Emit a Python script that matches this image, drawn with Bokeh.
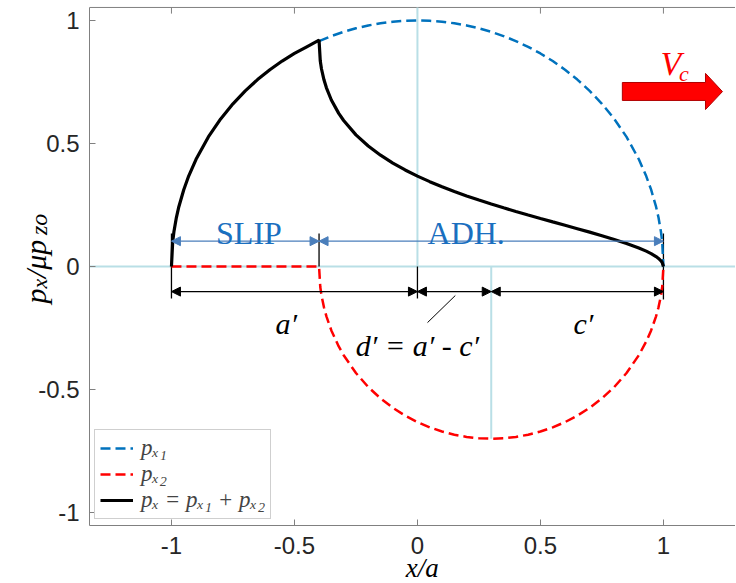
import math
from bokeh.plotting import figure
from bokeh.models import (Label, Arrow, NormalHead, ColumnDataSource, FixedTicker, LinearAxis)
from bokeh.embed import file_html
from bokeh.resources import INLINE

# ---------------- data ----------------
tick_values = [-1, -0.5, 0, 0.5, 1]
tick_labels = ["-1", "-0.5", "0", "0.5", "1"]

# axes box limits
box_x = (-1.333, 1.293)
box_y = (-1.053, 1.053)
top_tick_len = 0.025

# p_x1 (upper circle, adhesion part)
px1_x = [-0.40, -0.35, -0.30, -0.25, -0.20, -0.15, -0.10, -0.05, 0.00, 0.05, 0.10, 0.15,
         0.20, 0.25, 0.30, 0.35, 0.40, 0.45, 0.50, 0.55, 0.60, 0.65, 0.70, 0.75, 0.80,
         0.85, 0.90, 0.93, 0.95, 0.97, 0.98, 0.99, 0.995, 1.00]
px1_y = [0.9165, 0.9367, 0.9539, 0.9682, 0.9798, 0.9887, 0.9950, 0.9987, 1.0000, 0.9987,
         0.9950, 0.9887, 0.9798, 0.9682, 0.9539, 0.9367, 0.9165, 0.8930, 0.8660, 0.8352,
         0.8000, 0.7599, 0.7141, 0.6614, 0.6000, 0.5268, 0.4359, 0.3676, 0.3122, 0.2431,
         0.1990, 0.1411, 0.0999, 0.0000]

# p_x2 (zero in slip zone, lower circle in adhesion zone)
px2_x = [-1.00, -0.40, -0.395, -0.39, -0.38, -0.37, -0.35, -0.32, -0.30, -0.25, -0.20,
         -0.15, -0.10, -0.05, 0.00, 0.05, 0.10, 0.15, 0.20, 0.25, 0.30, 0.35, 0.40, 0.45,
         0.50, 0.55, 0.60, 0.65, 0.70, 0.75, 0.80, 0.85, 0.90, 0.93, 0.95, 0.97, 0.98,
         0.99, 0.995, 1.00]
px2_y = [0.0, 0.0, -0.0835, -0.1179, -0.1661, -0.2027, -0.2598, -0.3250, -0.3606, -0.4330,
         -0.4899, -0.5362, -0.5745, -0.6062, -0.6325, -0.6538, -0.6708, -0.6837, -0.6928,
         -0.6982, -0.7000, -0.6982, -0.6928, -0.6837, -0.6708, -0.6538, -0.6325, -0.6062,
         -0.5745, -0.5362, -0.4899, -0.4330, -0.3606, -0.3051, -0.2598, -0.2027, -0.1661,
         -0.1179, -0.0835, 0.0]

# p_x = p_x1 + p_x2 (total)
px_x = [-1.00, -0.995, -0.99, -0.98, -0.97, -0.95, -0.93, -0.90, -0.85, -0.80, -0.75,
        -0.70, -0.65, -0.60, -0.55, -0.50, -0.45, -0.40,
        -0.395, -0.39, -0.38, -0.37, -0.35, -0.32, -0.30, -0.25, -0.20, -0.15, -0.10,
        -0.05, 0.00, 0.05, 0.10, 0.15, 0.20, 0.25, 0.30, 0.35, 0.40, 0.45, 0.50, 0.55,
        0.60, 0.65, 0.70, 0.75, 0.80, 0.85, 0.90, 0.93, 0.95, 0.97, 0.98, 0.99, 0.995, 1.00]
px_y = [0.0, 0.0999, 0.1411, 0.1990, 0.2431, 0.3122, 0.3676, 0.4359, 0.5268, 0.6000, 0.6614,
        0.7141, 0.7599, 0.8000, 0.8352, 0.8660, 0.8930, 0.9200,
        0.8352, 0.8029, 0.7589, 0.7263, 0.6769, 0.6225, 0.5934, 0.5352, 0.4899, 0.4525,
        0.4205, 0.3925, 0.3675, 0.3449, 0.3242, 0.3050, 0.2870, 0.2700, 0.2539, 0.2385,
        0.2237, 0.2093, 0.1952, 0.1813, 0.1675, 0.1537, 0.1397, 0.1253, 0.1101, 0.0938,
        0.0753, 0.0624, 0.0524, 0.0404, 0.0329, 0.0232, 0.0164, 0.0]

d_end = 0.3

# dimension arrows
blue_arrow_x0 = [-1.0, -0.4]
blue_arrow_x1 = [-0.4, 1.0]
blue_arrow_y = [0.103, 0.103]
black_arrow_x0 = [-1.0, 0.0, 0.3]
black_arrow_x1 = [0.0, 0.3, 1.0]
black_arrow_y = [-0.102, -0.102, -0.102]

# dimension tick lines
dim_x = [-1.0, -0.4, 0.0, 1.0]
dim_y0 = [0.134, 0.134, 0.0, 0.134]
dim_y1 = [-0.13, 0.0, -0.13, -0.134]

# leader line for d'
leader_x = [0.041, 0.154]
leader_y = [-0.228, -0.118]

# velocity arrow shape
vc_x = [0.833, 1.171, 1.171, 1.240, 1.171, 1.171, 0.833]
vc_y = [0.748, 0.748, 0.785, 0.711, 0.638, 0.675, 0.675]

# ---------------- figure ----------------
W, H = 735, 583
p = figure(width=W, height=H, x_range=(-1.695, 1.293), y_range=(-1.2886, 1.0813),
           output_backend="svg", toolbar_location=None,
           x_axis_location=None, y_axis_location=None,
           min_border_left=0, min_border_right=0, min_border_top=0, min_border_bottom=0)
p.xgrid.visible = False
p.ygrid.visible = False
p.outline_line_color = None
p.background_fill_color = "white"

bottom_axis = LinearAxis(fixed_location=box_y[0], bounds=box_x)
left_axis = LinearAxis(fixed_location=box_x[0], bounds=box_y)
p.add_layout(bottom_axis, "below")
p.add_layout(left_axis, "left")

for ax in (bottom_axis, left_axis):
    ax.ticker = FixedTicker(ticks=tick_values)
    ax.axis_line_color = "#808080"
    ax.major_tick_line_color = "#808080"
    ax.major_tick_in = 6
    ax.major_tick_out = 0
    ax.minor_tick_line_color = None
    ax.major_label_text_font = "Liberation Sans"
    ax.major_label_text_font_size = "24px"
    ax.major_label_text_color = "#262626"
    ax.major_label_overrides = {v: s for v, s in zip(tick_values, tick_labels)}
bottom_axis.major_label_standoff = 11
left_axis.major_label_standoff = 10

# top edge of the axes box with its inward ticks
p.segment(x0=[box_x[0]], y0=[box_y[1]], x1=[box_x[1]], y1=[box_y[1]],
          line_color="#808080", line_width=1)
p.segment(x0=tick_values, y0=[box_y[1]] * len(tick_values), x1=tick_values,
          y1=[box_y[1] - top_tick_len] * len(tick_values), line_color="#808080", line_width=1)

cyan = "#b9dfe6"
p.segment(x0=[box_x[0]], y0=[0.0], x1=[box_x[1]], y1=[0.0], line_color=cyan, line_width=2)
p.segment(x0=[0.0], y0=[0.0], x1=[0.0], y1=[box_y[1]], line_color=cyan, line_width=2)
p.segment(x0=[d_end], y0=[0.0], x1=[d_end], y1=[-0.7], line_color=cyan, line_width=2)

# dimension lines
p.segment(x0=dim_x, y0=dim_y0, x1=dim_x, y1=dim_y1, line_color="black", line_width=1.3)
p.segment(x0=[leader_x[0]], y0=[leader_y[0]], x1=[leader_x[1]], y1=[leader_y[1]],
          line_color="black", line_width=1)

bsrc = ColumnDataSource(dict(x0=blue_arrow_x0, x1=blue_arrow_x1, y=blue_arrow_y))
p.add_layout(Arrow(source=bsrc, x_start="x0", y_start="y", x_end="x1", y_end="y",
                   line_color="#4a7ebb", line_width=1.3,
                   start=NormalHead(size=9, fill_color="#4a7ebb", line_color="#4a7ebb"),
                   end=NormalHead(size=9, fill_color="#4a7ebb", line_color="#4a7ebb")))
ksrc = ColumnDataSource(dict(x0=black_arrow_x0, x1=black_arrow_x1, y=black_arrow_y))
p.add_layout(Arrow(source=ksrc, x_start="x0", y_start="y", x_end="x1", y_end="y",
                   line_color="black", line_width=1.3,
                   start=NormalHead(size=9, fill_color="black", line_color="black"),
                   end=NormalHead(size=9, fill_color="black", line_color="black")))

# curves
p.line(px1_x, px1_y, line_color="#0072BD", line_width=2.5, line_dash="10 5",
       legend_label="pₓ₁")
p.line(px2_x, px2_y, line_color="#FF0000", line_width=2.5, line_dash="10 5",
       legend_label="pₓ₂")
p.line(px_x, px_y, line_color="black", line_width=3.2, legend_label="pₓ = pₓ₁ + pₓ₂")

# velocity arrow
p.patch(vc_x, vc_y, fill_color="#FF0000", line_color="#B00000", line_width=1)

serif = "Liberation Serif"
def lab(x, y, t, size, color="black", style="italic", align="left", angle=0.0):
    p.add_layout(Label(x=x, y=y, text=t, text_font=serif, text_font_size=size,
                       text_font_style=style, text_color=color, text_align=align,
                       text_baseline="alphabetic", angle=angle))

lab(-0.685, 0.138, "SLIP", "32px", color="#1a6fbf", style="normal", align="center")
lab(0.041, 0.138, "ADH.", "32px", color="#1a6fbf", style="normal")
lab(-0.577, -0.232, "a′", "30px")
lab(0.0, -0.321, "d′ = a′ - c′", "30px", align="center")
lab(0.634, -0.232, "c′", "30px")
lab(0.988, 0.825, "V", "34px", color="#FF0000")
lab(1.063, 0.785, "c", "22px", color="#FF0000")

# axis titles
lab(0.02, -1.225, "x/a", "27px", align="center")
a90 = math.pi / 2
lab(-1.553, -0.150, "p", "30px", angle=a90)
lab(-1.537, -0.089, "x", "22px", angle=a90)
lab(-1.553, -0.047, "/μp", "30px", angle=a90)
lab(-1.537, 0.128, "zo", "24px", angle=a90)

lg = p.legend[0]
lg.location = (94, 64)
lg.margin = 0
lg.padding = 5
lg.spacing = 0
lg.glyph_width = 33
lg.glyph_height = 26
lg.label_height = 26
lg.label_standoff = 8
lg.label_text_font = serif
lg.label_text_font_style = "italic"
lg.label_text_font_size = "23px"
lg.border_line_color = "#a0a0a0"
lg.border_line_width = 1
lg.background_fill_alpha = 1

open("out.html", "w").write(file_html(p, INLINE))
